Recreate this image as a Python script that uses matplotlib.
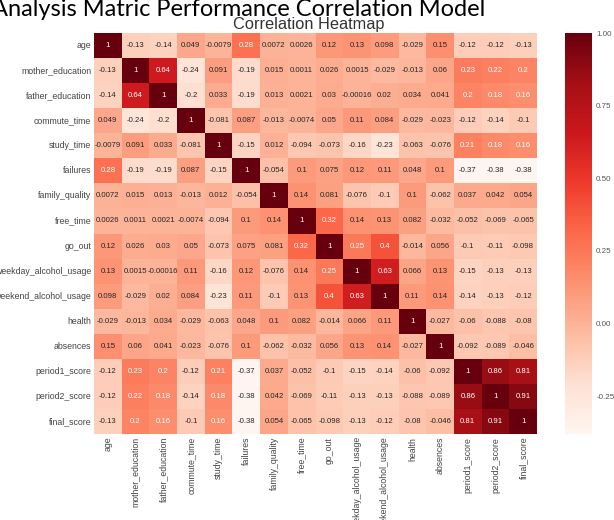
import numpy as np
import pandas as pd
import matplotlib
matplotlib.use("Agg")
import matplotlib.pyplot as plt
import seaborn as sns

# --- Feature names and pairwise correlations ---
features = ["age", "mother_education", "father_education", "commute_time",
            "study_time", "failures", "family_quality", "free_time", "go_out",
            "weekday_alcohol_usage", "weekend_alcohol_usage", "health",
            "absences", "period1_score", "period2_score", "final_score"]

age = [1, -0.13, -0.14, 0.049, -0.0079, 0.28, 0.0072, 0.0026, 0.12, 0.13, 0.098, -0.029, 0.15, -0.12, -0.12, -0.13]
mother_education = [-0.13, 1, 0.64, -0.24, 0.091, -0.19, 0.015, 0.0011, 0.026, 0.0015, -0.029, -0.013, 0.06, 0.23, 0.22, 0.2]
father_education = [-0.14, 0.64, 1, -0.2, 0.033, -0.19, 0.013, 0.0021, 0.03, -0.00016, 0.02, 0.034, 0.041, 0.2, 0.18, 0.16]
commute_time = [0.049, -0.24, -0.2, 1, -0.081, 0.087, -0.013, -0.0074, 0.05, 0.11, 0.084, -0.029, -0.023, -0.12, -0.14, -0.1]
study_time = [-0.0079, 0.091, 0.033, -0.081, 1, -0.15, 0.012, -0.094, -0.073, -0.16, -0.23, -0.063, -0.076, 0.21, 0.18, 0.16]
failures = [0.28, -0.19, -0.19, 0.087, -0.15, 1, -0.054, 0.1, 0.075, 0.12, 0.11, 0.048, 0.1, -0.37, -0.38, -0.38]
family_quality = [0.0072, 0.015, 0.013, -0.013, 0.012, -0.054, 1, 0.14, 0.081, -0.076, -0.1, 0.1, -0.062, 0.037, 0.042, 0.054]
free_time = [0.0026, 0.0011, 0.0021, -0.0074, -0.094, 0.1, 0.14, 1, 0.32, 0.14, 0.13, 0.082, -0.032, -0.052, -0.069, -0.065]
go_out = [0.12, 0.026, 0.03, 0.05, -0.073, 0.075, 0.081, 0.32, 1, 0.25, 0.4, -0.014, 0.056, -0.1, -0.11, -0.098]
weekday_alcohol_usage = [0.13, 0.0015, -0.00016, 0.11, -0.16, 0.12, -0.076, 0.14, 0.25, 1, 0.63, 0.066, 0.13, -0.15, -0.13, -0.13]
weekend_alcohol_usage = [0.098, -0.029, 0.02, 0.084, -0.23, 0.11, -0.1, 0.13, 0.4, 0.63, 1, 0.11, 0.14, -0.14, -0.13, -0.12]
health = [-0.029, -0.013, 0.034, -0.029, -0.063, 0.048, 0.1, 0.082, -0.014, 0.066, 0.11, 1, -0.027, -0.06, -0.088, -0.08]
absences = [0.15, 0.06, 0.041, -0.023, -0.076, 0.1, -0.062, -0.032, 0.056, 0.13, 0.14, -0.027, 1, -0.092, -0.089, -0.046]
period1_score = [-0.12, 0.23, 0.2, -0.12, 0.21, -0.37, 0.037, -0.052, -0.1, -0.15, -0.14, -0.06, -0.092, 1, 0.86, 0.81]
period2_score = [-0.12, 0.22, 0.18, -0.14, 0.18, -0.38, 0.042, -0.069, -0.11, -0.13, -0.13, -0.088, -0.089, 0.86, 1, 0.91]
final_score = [-0.13, 0.2, 0.16, -0.1, 0.16, -0.38, 0.054, -0.065, -0.098, -0.13, -0.12, -0.08, -0.046, 0.81, 0.91, 1]

rows = [age, mother_education, father_education, commute_time, study_time,
        failures, family_quality, free_time, go_out, weekday_alcohol_usage,
        weekend_alcohol_usage, health, absences, period1_score,
        period2_score, final_score]
corr = pd.DataFrame(rows, index=features, columns=features)

cbar_ticks = [-0.25, 0.0, 0.25, 0.5, 0.75, 1.0]

# --- Style ---
sns.set_theme(style="white")
plt.rcParams["font.family"] = ["Liberation Sans", "DejaVu Sans"]

W, H = 614, 520
fig = plt.figure(figsize=(W / 100, H / 100), dpi=100)
ax = fig.add_axes([94 / W, 1 - 434 / H, (537 - 94) / W, (434 - 33) / H])
cax = fig.add_axes([565 / W, 1 - 434 / H, 27 / W, (434 - 33) / H])

sns.heatmap(corr, annot=True, cmap="Reds", ax=ax, cbar_ax=cax,
            xticklabels=features, yticklabels=features,
            annot_kws={"size": 5.6},
            cbar_kws={"ticks": cbar_ticks, "format": "%.2f"})

ax.set_title("Correlation Heatmap", fontsize=11.8, color="#333333", pad=3, x=0.485)
ax.tick_params(axis="both", length=0, labelsize=6.3, colors="#444444", pad=2)
plt.setp(ax.get_xticklabels(), rotation=90)
plt.setp(ax.get_yticklabels(), rotation=0)
cax.tick_params(length=0, labelsize=5.8, colors="#555555", pad=3)

# Slide heading along the top edge
fig.text(-8 / W, 1 - 16 / H, "Analysis Matric Performance Correlation Model",
         fontsize=17, family="Lato", color="black", va="baseline", ha="left")

fig.savefig("out.png", dpi=100)
